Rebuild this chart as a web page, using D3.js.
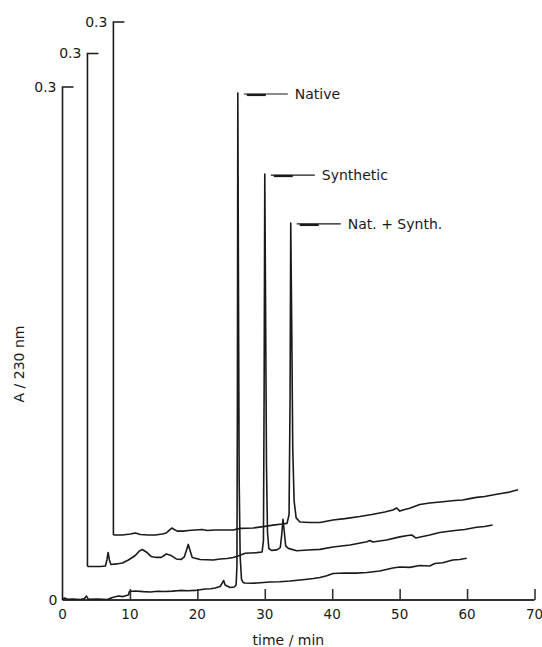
<!DOCTYPE html>
<html><head><meta charset="utf-8">
<script src="https://cdn.jsdelivr.net/npm/d3@7"></script>
<style>
body{margin:0;background:#fff}
svg{display:block}
text{font-family:"DejaVu Sans",sans-serif;fill:#1a1a1a}
</style>
</head><body>
<svg id="c" width="542" height="647"></svg>
<script>
// ---------- data ----------
const xTicks = [0, 10, 20, 30, 40, 50, 60, 70];
const traceNames = ["Native", "Synthetic", "Nat. + Synth."];
const traceStart = [0, 3.7, 7.55];      // time (min) where each trace's own A-axis stands
const traceBase = [0, 0.0196, 0.038];   // vertical offset of each trace (A units)
const axisTopValue = 0.3;
const axisTopLabel = "0.3";
const zeroLabel = "0";
const xTitle = "time / min";
const yTitle = "A / 230 nm";

// [time (min), A above the trace's own baseline]
const nativeTrace = [[0,0.0003],[0.3,0.0012],[0.74,0.0004],[1.5,0.0006],[2.66,0.0003],[3.26,0.0009],[3.55,0.0023],[3.85,0.0004],[5.2,0.0005],[6.66,0.0003],[7.4,0.0015],[8.29,0.0023],[9.0,0.002],[9.47,0.0026],[9.77,0.0029],[9.92,0.005],[10.8,0.0053],[12.0,0.0049],[13.02,0.0047],[14.1,0.0051],[15.24,0.005],[16.3,0.0052],[17.46,0.0056],[18.6,0.0054],[19.68,0.0056],[21.16,0.0064],[22.0,0.0066],[22.64,0.007],[23.38,0.0079],[23.68,0.0099],[23.9,0.0114],[24.12,0.0088],[24.86,0.0073],[25.46,0.0076],[25.75,0.0088],[25.87,0.02],[25.94,0.12],[26.0,0.2965],[26.1,0.18],[26.2,0.07],[26.35,0.025],[26.55,0.012],[26.8,0.0102],[27.04,0.0099],[28.0,0.0098],[28.86,0.0099],[30.78,0.0105],[32.2,0.0107],[33.74,0.0111],[35.96,0.012],[37.2,0.0126],[38.18,0.0132],[39.2,0.0142],[40.11,0.0155],[41.88,0.0158],[43.5,0.0157],[45.14,0.0161],[47.06,0.017],[48.99,0.0187],[50.02,0.0193],[51.5,0.0191],[52.98,0.0202],[54.46,0.0199],[55.2,0.0213],[56.39,0.0218],[57.87,0.0234],[58.9,0.0237],[59.94,0.0244]];

const syntheticTrace = [[3.7,0],[5.62,0.0],[6.36,0.0003],[6.59,0.0038],[6.76,0.0082],[6.96,0.0038],[7.18,0.0012],[7.99,0.0015],[8.88,0.002],[9.77,0.0038],[10.8,0.0064],[11.4,0.0091],[11.84,0.0099],[12.43,0.0085],[13.17,0.0058],[13.91,0.0053],[14.65,0.0053],[15.39,0.0073],[16.13,0.0064],[16.87,0.0044],[17.61,0.0041],[18.06,0.0056],[18.35,0.0091],[18.65,0.0129],[18.94,0.0091],[19.24,0.0053],[20.42,0.0041],[22.35,0.0038],[23.38,0.0044],[24.42,0.0047],[25.31,0.0053],[26.05,0.0061],[27.08,0.0077],[28.81,0.0081],[29.6,0.0085],[29.8,0.015],[29.9,0.1],[30.0,0.2295],[30.12,0.15],[30.25,0.06],[30.4,0.02],[30.6,0.0105],[31.0,0.0094],[31.8,0.0097],[32.3,0.011],[32.5,0.018],[32.7,0.0276],[32.9,0.02],[33.1,0.012],[33.5,0.0106],[34.73,0.0092],[36.4,0.0096],[38.18,0.01],[40.11,0.0114],[42.63,0.0126],[45.14,0.0145],[45.58,0.0152],[46.03,0.0143],[48.05,0.0155],[50.02,0.0173],[51.21,0.0181],[51.8,0.0184],[52.39,0.0167],[54.46,0.0184],[55.94,0.0199],[57.87,0.0209],[59.64,0.0216],[61.42,0.0229],[62.6,0.0234],[63.79,0.0243]];

const mixTrace = [[7.55,0],[8.88,0.0],[10.06,0.0006],[10.8,0.0012],[11.54,0.0003],[12.73,0.0],[13.76,0.0],[14.8,0.0006],[15.39,0.0012],[15.84,0.0029],[16.23,0.0041],[16.58,0.0032],[17.02,0.0023],[17.91,0.0023],[18.65,0.0026],[19.68,0.0029],[20.72,0.0032],[21.46,0.0026],[22.64,0.0029],[23.83,0.0029],[25.31,0.0029],[26.34,0.0039],[28.27,0.0041],[29.75,0.0049],[31.23,0.0058],[32.56,0.0064],[33.3,0.0068],[33.6,0.012],[33.75,0.08],[33.85,0.1825],[34.0,0.12],[34.15,0.05],[34.35,0.02],[34.65,0.01],[35.22,0.0076],[36.7,0.0073],[38.18,0.0073],[40.11,0.0088],[41.88,0.0096],[44.1,0.0108],[45.88,0.012],[47.8,0.0135],[48.99,0.0146],[49.58,0.0158],[50.02,0.014],[50.76,0.0149],[51.5,0.0156],[52.98,0.0178],[54.46,0.0187],[56.39,0.0195],[58.16,0.0202],[59.35,0.0205],[60.39,0.0213],[61.42,0.022],[62.6,0.0225],[63.79,0.0234],[65.26,0.0244],[66.3,0.0251],[67.56,0.0265]];

const traces = [nativeTrace, syntheticTrace, mixTrace];

// ---------- drawing ----------
const svg = d3.select("#c");
const ink = "#1a1a1a";
const x = d3.scaleLinear().domain([0, 70]).range([62.5, 534.5]);
const y = d3.scaleLinear().domain([0, 0.3]).range([600, 87]);

// bottom time axis
const xAxis = d3.axisBottom(x).tickValues(xTicks.slice(1)).tickSize(-11).tickFormat("");
const gx = svg.append("g").attr("transform", `translate(0,${y(0)})`).call(xAxis);
gx.select(".domain").attr("stroke", "#333").attr("stroke-width", 1.8).attr("d", `M${x(0)},0H${x(70)}`);
gx.selectAll(".tick line").attr("stroke", "#333").attr("stroke-width", 1.6);
svg.append("g").selectAll("text").data(xTicks).join("text")
  .attr("x", d => x(d)).attr("y", y(0) + 19)
  .attr("text-anchor", "middle").attr("font-size", 13.5).text(d => d);
svg.append("text").attr("x", x(0) - 5).attr("y", y(0) + 5)
  .attr("text-anchor", "end").attr("font-size", 14).text(zeroLabel);
svg.append("text").attr("x", x(33.5)).attr("y", 645)
  .attr("text-anchor", "middle").attr("font-size", 14).text(xTitle);
svg.append("text").attr("transform", `translate(24,364) rotate(-90)`)
  .attr("text-anchor", "middle").attr("font-size", 14).text(yTitle);

// per-trace A axes, traces and labels
const line = d3.line().x(d => x(d[0])).y(d => y(d[1]));
traces.forEach((data, i) => {
  const base = traceBase[i];
  const ax = x(traceStart[i]);
  const g = svg.append("g");
  // own A axis
  g.append("path")
    .attr("d", `M${ax},${y(base)}V${y(base + axisTopValue)}h11`)
    .attr("fill", "none").attr("stroke", ink).attr("stroke-width", 1.6);
  g.append("text").attr("x", ax - 6).attr("y", y(base + axisTopValue) + 5)
    .attr("text-anchor", "end").attr("font-size", 14).text(axisTopLabel);
  // trace
  g.append("path")
    .datum(data.map(d => [d[0], base + d[1]]))
    .attr("d", line)
    .attr("fill", "none").attr("stroke", ink).attr("stroke-width", 1.6)
    .attr("stroke-linejoin", "round");
  // label with leader at the main peak
  const apex = data.reduce((a, b) => (b[1] > a[1] ? b : a));
  const px = x(apex[0]), py = y(base + apex[1]);
  g.append("line").attr("x1", px + 6).attr("x2", px + 50).attr("y1", py + 1).attr("y2", py + 1)
    .attr("stroke", ink).attr("stroke-width", 1.2);
  g.append("line").attr("x1", px + 9).attr("x2", px + 28).attr("y1", py + 2).attr("y2", py + 2)
    .attr("stroke", ink).attr("stroke-width", 2.2);
  g.append("text").attr("x", px + 57).attr("y", py + 6)
    .attr("font-size", 14).text(traceNames[i]);
});
</script>
</body></html>
